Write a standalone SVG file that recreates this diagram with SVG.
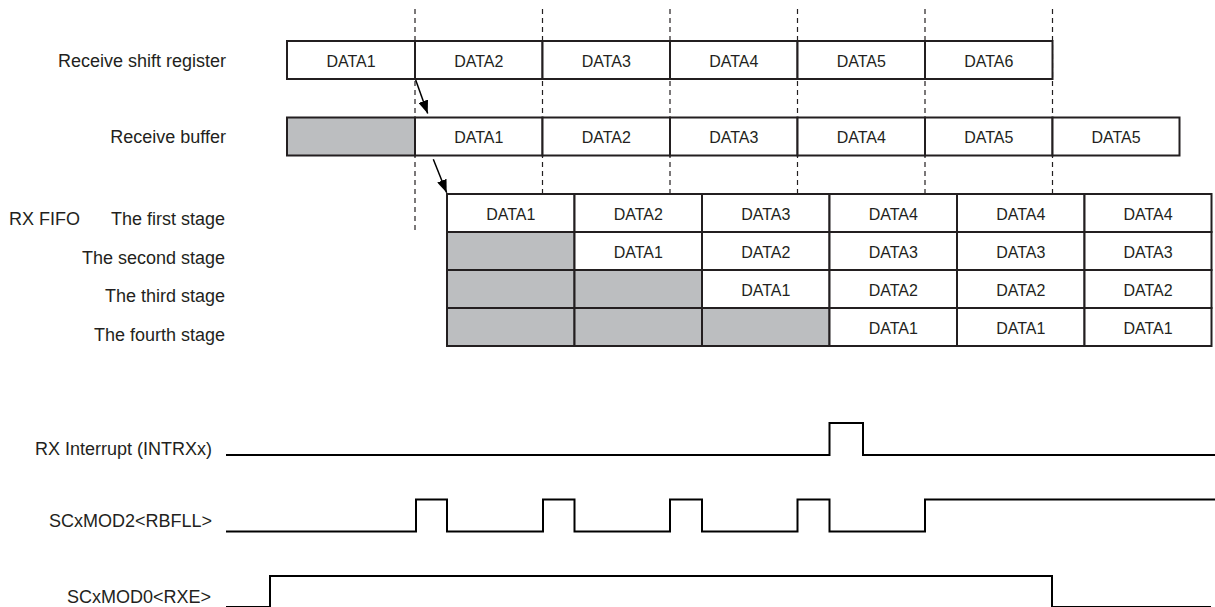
<svg xmlns="http://www.w3.org/2000/svg" width="1215" height="607" viewBox="0 0 1215 607">
<style>
  text { font-family: "Liberation Sans", Arial, sans-serif; fill: #231f20; }
  .lbl { font-size: 18px; text-anchor: end; }
  .cell text { font-size: 16px; text-anchor: middle; }
  .box { fill: #ffffff; stroke: #231f20; stroke-width: 2; }
  .gray { fill: #bcbec0; stroke: #231f20; stroke-width: 2; }
  .dash { stroke: #231f20; stroke-width: 1.2; stroke-dasharray: 5 4; fill: none; }
  .sig { fill: none; stroke: #000000; stroke-width: 2; }
  .arr { stroke: #000000; stroke-width: 1.5; fill: none; marker-end: url(#ah); }
</style>
<defs>
  <marker id="ah" markerUnits="userSpaceOnUse" markerWidth="14" markerHeight="10" refX="13" refY="5" orient="auto">
    <path d="M0,0 L13,5 L0,10 Z" fill="#000000"/>
  </marker>
</defs>
<rect width="1215" height="607" fill="#ffffff"/>

<g id="guides">
  <line class="dash" x1="415" y1="9" x2="415" y2="230"/>
  <line class="dash" x1="542.5" y1="9" x2="542.5" y2="193"/>
  <line class="dash" x1="670" y1="9" x2="670" y2="193"/>
  <line class="dash" x1="797.5" y1="9" x2="797.5" y2="193"/>
  <line class="dash" x1="925" y1="9" x2="925" y2="193"/>
  <line class="dash" x1="1052.5" y1="9" x2="1052.5" y2="193"/>
</g>

<g id="labels">
  <text class="lbl" x="226" y="66.5">Receive shift register</text>
  <text class="lbl" x="226" y="143">Receive buffer</text>
  <text x="9" y="225" style="font-size:18px">RX FIFO</text>
  <text class="lbl" x="225" y="225">The first stage</text>
  <text class="lbl" x="225" y="263.5">The second stage</text>
  <text class="lbl" x="225" y="302">The third stage</text>
  <text class="lbl" x="225" y="340.5">The fourth stage</text>
  <text class="lbl" x="212" y="454.5">RX Interrupt (INTRXx)</text>
  <text class="lbl" x="212" y="526.5">SCxMOD2&lt;RBFLL&gt;</text>
  <text class="lbl" x="211" y="603">SCxMOD0&lt;RXE&gt;</text>
</g>

<g id="shift-register" class="cell">
  <rect class="box" x="287" y="41" width="128" height="38"/><text x="351" y="66.5">DATA1</text>
  <rect class="box" x="415" y="41" width="127.5" height="38"/><text x="478.75" y="66.5">DATA2</text>
  <rect class="box" x="542.5" y="41" width="127.5" height="38"/><text x="606.25" y="66.5">DATA3</text>
  <rect class="box" x="670" y="41" width="127.5" height="38"/><text x="733.75" y="66.5">DATA4</text>
  <rect class="box" x="797.5" y="41" width="127.5" height="38"/><text x="861.25" y="66.5">DATA5</text>
  <rect class="box" x="925" y="41" width="127.5" height="38"/><text x="988.75" y="66.5">DATA6</text>
</g>

<g id="receive-buffer" class="cell">
  <rect class="gray" x="287" y="117.5" width="128" height="38"/>
  <rect class="box" x="415" y="117.5" width="127.5" height="38"/><text x="478.75" y="143">DATA1</text>
  <rect class="box" x="542.5" y="117.5" width="127.5" height="38"/><text x="606.25" y="143">DATA2</text>
  <rect class="box" x="670" y="117.5" width="127.5" height="38"/><text x="733.75" y="143">DATA3</text>
  <rect class="box" x="797.5" y="117.5" width="127.5" height="38"/><text x="861.25" y="143">DATA4</text>
  <rect class="box" x="925" y="117.5" width="127.5" height="38"/><text x="988.75" y="143">DATA5</text>
  <rect class="box" x="1052.5" y="117.5" width="127" height="38"/><text x="1116" y="143">DATA5</text>
</g>

<g id="rx-fifo" class="cell">
  <rect class="box" x="447" y="194" width="127.5" height="38"/><text x="510.75" y="220">DATA1</text>
  <rect class="box" x="574.5" y="194" width="127.5" height="38"/><text x="638.25" y="220">DATA2</text>
  <rect class="box" x="702" y="194" width="127.5" height="38"/><text x="765.75" y="220">DATA3</text>
  <rect class="box" x="829.5" y="194" width="127.5" height="38"/><text x="893.25" y="220">DATA4</text>
  <rect class="box" x="957" y="194" width="127.5" height="38"/><text x="1020.75" y="220">DATA4</text>
  <rect class="box" x="1084.5" y="194" width="127" height="38"/><text x="1148" y="220">DATA4</text>

  <rect class="gray" x="447" y="232" width="127.5" height="38"/>
  <rect class="box" x="574.5" y="232" width="127.5" height="38"/><text x="638.25" y="258">DATA1</text>
  <rect class="box" x="702" y="232" width="127.5" height="38"/><text x="765.75" y="258">DATA2</text>
  <rect class="box" x="829.5" y="232" width="127.5" height="38"/><text x="893.25" y="258">DATA3</text>
  <rect class="box" x="957" y="232" width="127.5" height="38"/><text x="1020.75" y="258">DATA3</text>
  <rect class="box" x="1084.5" y="232" width="127" height="38"/><text x="1148" y="258">DATA3</text>

  <rect class="gray" x="447" y="270" width="127.5" height="38"/>
  <rect class="gray" x="574.5" y="270" width="127.5" height="38"/>
  <rect class="box" x="702" y="270" width="127.5" height="38"/><text x="765.75" y="296">DATA1</text>
  <rect class="box" x="829.5" y="270" width="127.5" height="38"/><text x="893.25" y="296">DATA2</text>
  <rect class="box" x="957" y="270" width="127.5" height="38"/><text x="1020.75" y="296">DATA2</text>
  <rect class="box" x="1084.5" y="270" width="127" height="38"/><text x="1148" y="296">DATA2</text>

  <rect class="gray" x="447" y="308" width="127.5" height="38"/>
  <rect class="gray" x="574.5" y="308" width="127.5" height="38"/>
  <rect class="gray" x="702" y="308" width="127.5" height="38"/>
  <rect class="box" x="829.5" y="308" width="127.5" height="38"/><text x="893.25" y="334">DATA1</text>
  <rect class="box" x="957" y="308" width="127.5" height="38"/><text x="1020.75" y="334">DATA1</text>
  <rect class="box" x="1084.5" y="308" width="127" height="38"/><text x="1148" y="334">DATA1</text>
</g>

<g id="connectors">
  <line class="arr" x1="415.7" y1="80" x2="427.7" y2="113.5"/>
  <line class="arr" x1="433.3" y1="159.3" x2="446.7" y2="192.7"/>
</g>

<g id="signals">
  <path id="sig-intrx" class="sig" d="M226,455 H829.5 V423 H863 V455 H1215"/>
  <path id="sig-rbfll" class="sig" d="M226,531.5 H416 V499.5 H447 V531.5 H543 V499.5 H574.5 V531.5 H670 V499.5 H702 V531.5 H797.5 V499.5 H829.5 V531.5 H925 V499.5 H1215"/>
  <path id="sig-rxe" class="sig" d="M226,607 H270 V576 H1052 V607 H1211"/>
</g>
</svg>
